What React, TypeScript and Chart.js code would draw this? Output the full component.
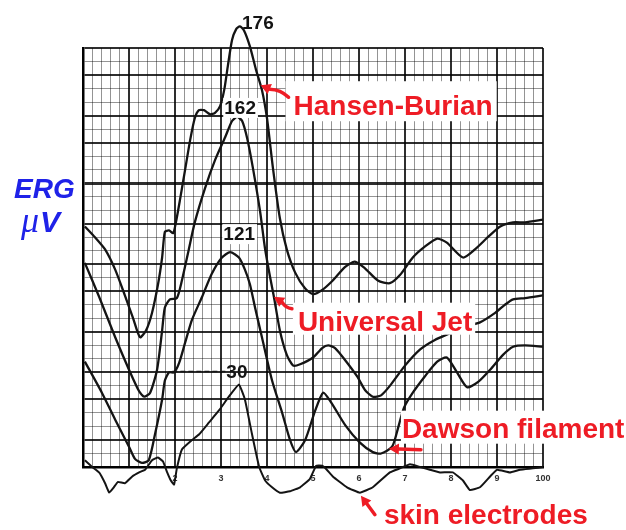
import { useEffect, useRef } from "react";
import { Chart, registerables } from "chart.js";

Chart.register(...registerables);

// ERG responses: [time after flash in ms, height in chart-paper divisions]
const hansenBurian: [number, number][] = [
  [0.4, 17.8], [2.6, 17.0], [4.8, 16.1], [7.0, 14.6], [9.1, 12.7], [10.9, 11.0], [12.4, 9.6],
  [13.7, 10.1], [15.0, 11.4], [16.3, 13.5], [17.2, 15.5], [17.8, 17.4], [18.7, 17.5], [19.6, 17.3],
  [20.2, 18.1], [21.1, 19.8], [22.2, 22.0], [23.3, 24.2], [24.3, 25.8], [25.2, 26.4], [26.3, 26.4],
  [27.6, 26.1], [28.7, 26.2], [29.8, 26.7], [30.7, 27.9], [31.5, 29.7], [32.4, 31.6], [33.3, 32.4],
  [34.1, 32.6], [35.0, 32.3], [36.3, 31.1], [37.6, 29.4], [38.9, 27.9], [40.0, 25.8], [41.3, 22.1],
  [42.8, 18.4], [44.3, 16.1], [46.1, 14.4], [48.3, 13.2], [50.0, 12.8], [52.0, 13.1], [54.3, 13.8],
  [57.0, 14.8], [59.1, 15.2], [61.3, 14.7], [64.1, 13.8], [66.7, 13.6], [68.9, 14.2], [71.7, 15.5],
  [74.3, 16.3], [77.0, 16.9], [79.1, 16.6], [82.6, 15.5], [85.2, 16.1], [88.0, 17.0], [90.7, 17.8],
  [93.5, 18.1], [96.1, 18.1], [100, 18.3],
];

const universalJet: [number, number][] = [
  [0.4, 15.1], [3.5, 12.6], [7.0, 9.6], [10.0, 7.2], [12.2, 5.6], [13.3, 5.2], [14.6, 5.5],
  [16.1, 7.2], [17.2, 10.1], [17.8, 11.8], [18.9, 12.4], [20.4, 12.5], [21.5, 13.8], [23.0, 16.1],
  [24.3, 18.1], [26.5, 20.6], [28.7, 22.7], [30.9, 24.4], [32.4, 25.6], [33.5, 25.9], [34.6, 25.6],
  [35.7, 24.3], [37.0, 22.0], [38.5, 18.9], [39.6, 16.1], [40.7, 14.0], [41.5, 12.6], [42.8, 10.1],
  [44.3, 8.3], [45.7, 7.5], [47.2, 7.6], [50.0, 8.1], [52.0, 8.8], [53.3, 9.0], [54.8, 8.8],
  [57.0, 7.9], [59.6, 6.7], [61.3, 5.7], [63.0, 5.2], [64.8, 5.3], [66.7, 6.0], [70.0, 7.5],
  [73.3, 8.7], [76.5, 9.4], [79.8, 9.9], [83.0, 10.4], [86.3, 10.7], [89.6, 11.4], [91.7, 12.0],
  [93.5, 12.4], [96.1, 12.5], [100, 12.7],
];

const dawsonFilament: [number, number][] = [
  [0.4, 7.8], [4.1, 5.5], [7.0, 3.5], [10.0, 1.5], [11.3, 0.6], [12.8, 0.3], [14.3, 0.5],
  [15.7, 2.5], [17.2, 5.0], [17.8, 6.4], [18.7, 7.0], [19.8, 7.0], [20.9, 7.7], [22.2, 9.2],
  [23.7, 10.9], [25.9, 12.6], [28.0, 14.3], [30.2, 15.5], [32.0, 15.9], [33.9, 15.5], [35.2, 14.6],
  [36.3, 13.5], [37.4, 11.8], [38.9, 9.6], [41.1, 6.4], [43.3, 4.0], [45.0, 2.0], [46.3, 1.1],
  [48.3, 2.0], [50.4, 4.1], [52.2, 5.5], [53.9, 4.8], [57.0, 3.1], [60.2, 1.8], [63.0, 1.1],
  [64.8, 1.0], [67.2, 1.5], [68.5, 2.9], [69.8, 4.4], [71.7, 5.5], [74.3, 6.7], [77.0, 7.8],
  [79.1, 8.1], [81.3, 7.0], [83.5, 5.9], [85.9, 6.3], [88.5, 7.2], [91.3, 8.3], [93.5, 8.9],
  [96.1, 9.0], [100, 8.9],
];

const skinElectrodes: [number, number][] = [
  [0.4, 0.5], [2.0, 0.0], [3.5, -0.4], [4.8, -1.2], [5.7, -1.9], [6.7, -1.5], [7.6, -1.1],
  [9.1, -1.2], [10.7, -0.7], [12.2, -0.4], [13.5, -0.2], [15.0, 0.5], [16.3, 0.7], [17.4, 0.4],
  [18.3, -0.4], [19.1, -1.0], [19.8, -1.3], [20.4, -0.1], [21.5, 1.3], [23.7, 2.0], [25.2, 2.4],
  [27.4, 3.3], [29.6, 4.2], [31.7, 5.2], [33.9, 6.1], [35.2, 5.0], [36.7, 2.5], [38.3, 0.0],
  [39.6, -1.0], [41.1, -1.5], [42.8, -1.9], [45.0, -1.8], [47.2, -1.5], [49.3, -0.9], [50.7, 0.1],
  [52.0, 0.1], [53.0, -0.2], [54.3, -0.7], [57.4, -1.5], [60.2, -1.9], [63.0, -1.5], [66.7, -0.4],
  [68.9, -0.1], [71.1, 0.2], [73.3, 0.0], [75.4, -0.2], [77.6, -0.4], [80.4, -0.4], [82.6, -1.0],
  [84.1, -1.7], [86.3, -1.5], [88.5, -0.7], [90.0, -0.2], [92.8, -0.4], [95.0, -0.2], [97.8, -0.1],
  [100, 0.0],
];

const traces = [hansenBurian, universalJet, dawsonFilament, skinElectrodes];
const traceNames = ["Hansen-Burian", "Universal Jet", "Dawson filament", "skin electrodes"];
const amplitudes = ["176", "162", "121", "30"];
// time (ms) at which each name's arrow touches its trace
const pointerMs = [38.6, 41.5, 66.5, 60.2];

const tickMs = [20, 30, 40, 50, 60, 70, 80, 90, 100];
const tickLabels = ["2", "3", "4", "5", "6", "7", "8", "9", "100"];
const heavyRows = [0, 2, 5, 7, 10, 13, 15, 18, 21, 24, 26, 29, 31];
const heavyCols = [0, 10, 20, 30, 40, 50, 60, 70, 80, 90, 100];

const RED = "#ee1c25";
const BLUE = "#1f22e8";
const INK = "#141414";
const GRID_HEAVY = "rgba(0,0,0,0.82)";
const GRID_LIGHT = "rgba(0,0,0,0.42)";

// pixel offsets (from the arrow tip) for arrow tails and name text
const namePlacement = [
  { tip: [0, 0], tail: [28, 12], text: [33, 30], bend: 4, box: [8, 34, 12, 40] },
  { tip: [0, 0], tail: [18, 12], text: [24, 34], bend: -3, box: [5, 28, 8, 32] },
  { tip: [0, 0], tail: [32, 1], text: [13, -11], bend: 0, box: [1, 27, 10, 33] },
  { tip: [1, 3], tail: [14, 19], text: [23, 28], bend: 0, box: null },
];

// amplitude numbers, offset from each trace's peak
const ampPlacement = [
  { dx: 18, dy: -4, box: false },
  { dx: 3, dy: -9, box: true },
  { dx: 9, dy: -18, box: true },
  { dx: -2, dy: -13, box: false, leader: 55 },
];

function valueAt(tr: [number, number][], ms: number): number {
  for (let i = 1; i < tr.length; i++) {
    if (ms <= tr[i][0]) {
      const [x0, y0] = tr[i - 1];
      const [x1, y1] = tr[i];
      return y0 + ((y1 - y0) * (ms - x0)) / (x1 - x0);
    }
  }
  return tr[tr.length - 1][1];
}

function drawArrow(ctx: CanvasRenderingContext2D, tipX: number, tipY: number, tailX: number, tailY: number, bend: number) {
  const ang = Math.atan2(tipY - tailY, tipX - tailX);
  const head = 10;
  const baseX = tipX - Math.cos(ang) * head;
  const baseY = tipY - Math.sin(ang) * head;
  const midX = (tailX + baseX) / 2 - Math.sin(ang) * bend;
  const midY = (tailY + baseY) / 2 + Math.cos(ang) * bend;
  ctx.save();
  ctx.strokeStyle = RED;
  ctx.fillStyle = RED;
  ctx.lineWidth = 3.5;
  ctx.lineCap = "round";
  ctx.beginPath();
  ctx.moveTo(tailX, tailY);
  ctx.quadraticCurveTo(midX, midY, baseX, baseY);
  ctx.stroke();
  ctx.beginPath();
  ctx.moveTo(tipX, tipY);
  ctx.lineTo(baseX - Math.sin(ang) * 5.5, baseY + Math.cos(ang) * 5.5);
  ctx.lineTo(baseX + Math.sin(ang) * 5.5, baseY - Math.cos(ang) * 5.5);
  ctx.closePath();
  ctx.fill();
  ctx.restore();
}

const annotations = {
  id: "ergAnnotations",
  afterDatasetsDraw(chart: any) {
    const ctx: CanvasRenderingContext2D = chart.ctx;
    const { x, y } = chart.scales;
    const area = chart.chartArea;
    ctx.save();

    // amplitude of each b-wave, written at its peak
    ctx.font = "bold 19px 'Liberation Sans Narrow', 'Liberation Sans', sans-serif";
    ctx.textAlign = "center";
    ctx.textBaseline = "middle";
    traces.forEach((tr, i) => {
      let peak = tr[0];
      tr.forEach((p) => {
        if (p[1] > peak[1]) peak = p;
      });
      const p = ampPlacement[i];
      const cx = x.getPixelForValue(peak[0]) + p.dx;
      const cy = y.getPixelForValue(peak[1]) + p.dy;
      const w = ctx.measureText(amplitudes[i]).width;
      if (p.box) {
        ctx.fillStyle = "#fff";
        ctx.fillRect(cx - w / 2 - 1, cy - 10, w + 3, 20);
      }
      if (p.leader) {
        ctx.save();
        ctx.strokeStyle = INK;
        ctx.lineWidth = 1.6;
        ctx.setLineDash([5, 3]);
        ctx.beginPath();
        ctx.moveTo(cx - w / 2 - 1, cy);
        ctx.lineTo(cx - w / 2 - 1 - p.leader, cy);
        ctx.stroke();
        ctx.restore();
      }
      ctx.fillStyle = INK;
      ctx.fillText(amplitudes[i], cx, cy + 1);
    });

    // electrode names with red pointers
    ctx.font = "bold 28px 'Liberation Sans', Arial, sans-serif";
    ctx.textAlign = "left";
    ctx.textBaseline = "alphabetic";
    traces.forEach((tr, i) => {
      const pl = namePlacement[i];
      const tipX = x.getPixelForValue(pointerMs[i]) + pl.tip[0];
      const tipY = y.getPixelForValue(valueAt(tr, pointerMs[i])) + pl.tip[1];
      const tx = tipX + pl.text[0];
      const ty = tipY + pl.text[1];
      const w = ctx.measureText(traceNames[i]).width;
      if (pl.box) {
        ctx.fillStyle = "#fff";
        ctx.fillRect(tx - pl.box[0], ty - pl.box[1], w + pl.box[2], pl.box[3]);
      }
      drawArrow(ctx, tipX, tipY, tipX + pl.tail[0], tipY + pl.tail[1], pl.bend);
      ctx.fillStyle = RED;
      ctx.fillText(traceNames[i], tx, ty);
    });

    // axis caption
    ctx.fillStyle = BLUE;
    ctx.textAlign = "left";
    ctx.font = "italic bold 28px 'Liberation Sans', Arial, sans-serif";
    ctx.fillText("ERG", area.left - 69, 198);
    ctx.font = "italic 36px 'Liberation Serif', serif";
    ctx.fillText("\u03bc", area.left - 62, 232);
    ctx.font = "italic bold 30px 'Liberation Sans', Arial, sans-serif";
    ctx.fillText("V", area.left - 43, 232);

    ctx.restore();
  },
};

export default function App() {
  const ref = useRef<HTMLCanvasElement>(null);

  useEffect(() => {
    const canvas = ref.current;
    if (!canvas) return;
    const chart = new Chart(canvas, {
      type: "line",
      data: {
        datasets: traces.map((tr, i) => ({
          label: traceNames[i],
          data: tr.map(([ms, v]) => ({ x: ms, y: v })),
          borderColor: INK,
          borderWidth: i === 3 ? 2 : 2.3,
          pointRadius: 0,
          tension: i === 3 ? 0.1 : 0.22,
          fill: false,
          clip: false as any,
        })),
      },
      options: {
        animation: false,
        responsive: false,
        layout: { padding: { top: 48, right: 83, left: 0, bottom: 0 } },
        plugins: { legend: { display: false }, tooltip: { enabled: false } },
        scales: {
          x: {
            type: "linear",
            min: 0,
            max: 100,
            afterFit: (s: any) => {
              s.height = 63;
            },
            border: { display: true, color: "#000", width: 2.5 },
            grid: {
              drawTicks: false,
              color: (c: any) => (heavyCols.includes(c.tick?.value) ? GRID_HEAVY : GRID_LIGHT),
              lineWidth: (c: any) => (heavyCols.includes(c.tick?.value) ? 2 : 1),
            },
            ticks: {
              stepSize: 2,
              autoSkip: false,
              maxRotation: 0,
              minRotation: 0,
              padding: 6,
              color: "#333",
              font: { size: 9, weight: "bold", family: "'Liberation Sans', Arial, sans-serif" },
              callback: (v: any) => {
                const k = tickMs.indexOf(Number(v));
                return k >= 0 ? tickLabels[k] : "";
              },
            },
          },
          y: {
            type: "linear",
            min: 0,
            max: 31,
            afterFit: (s: any) => {
              s.width = 83;
            },
            border: { display: true, color: "#000", width: 2.5 },
            grid: {
              drawTicks: false,
              color: (c: any) => (heavyRows.includes(c.tick?.value) ? GRID_HEAVY : GRID_LIGHT),
              lineWidth: (c: any) => (c.tick?.value === 21 ? 3 : heavyRows.includes(c.tick?.value) ? 2 : 1),
            },
            ticks: { stepSize: 1, display: false },
          },
        },
      } as any,
      plugins: [annotations],
    });
    return () => chart.destroy();
  }, []);

  return (
    <div style={{ position: "fixed", left: 0, top: 0, width: 626, height: 530, background: "#fff" }}>
      <canvas ref={ref} width={626} height={530} style={{ display: "block" }} />
    </div>
  );
}
